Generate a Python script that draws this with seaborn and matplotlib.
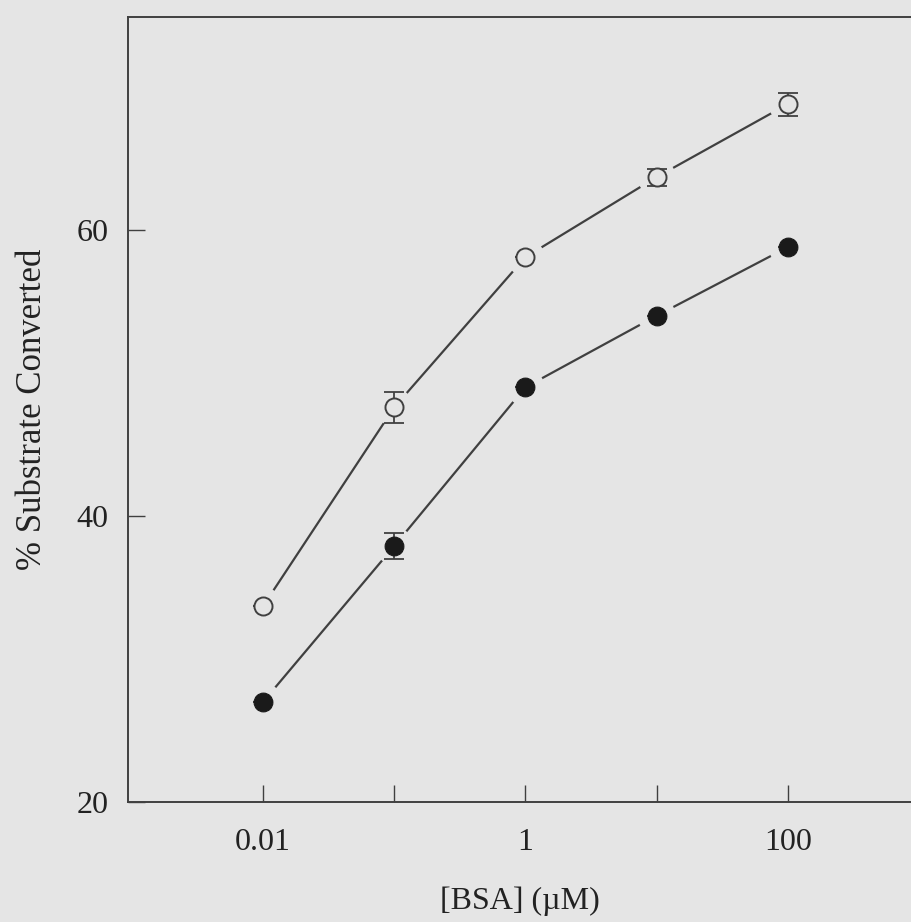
import numpy as np
import pandas as pd
import matplotlib
matplotlib.use("Agg")
import matplotlib.pyplot as plt
import seaborn as sns

# ---- data ----
bsa_conc = [0.01, 0.1, 1, 10, 100]
open_vals = [33.7, 47.6, 58.1, 63.7, 68.8]
open_err = [0.0, 1.1, 0.0, 0.6, 0.8]
filled_vals = [27.0, 37.9, 49.0, 54.0, 58.8]
filled_err = [0.0, 0.9, 0.0, 0.0, 0.0]
x_ticks = [0.01, 1, 100]
x_tick_labels = ["0.01", "1", "100"]
x_minor_ticks = [0.1, 10]
y_ticks = [20, 40, 60]

bg = "#e5e5e5"
ink = "#404040"

sns.set_theme(style="ticks")
plt.rcParams["font.family"] = ["Liberation Serif", "DejaVu Serif"]

fig = plt.figure(figsize=(9.11, 9.22), dpi=100)
fig.patch.set_facecolor(bg)
ax = fig.add_axes([0.1405, 0.1302, 0.8595, 0.8514])
ax.set_facecolor(bg)

df_open = pd.DataFrame({"x": bsa_conc, "y": open_vals})
df_filled = pd.DataFrame({"x": bsa_conc, "y": filled_vals})

for df in (df_open, df_filled):
    sns.lineplot(data=df, x="x", y="y", ax=ax, color=ink, linewidth=1.6, zorder=1)
    # halo so the curve stops short of each marker
    sns.scatterplot(data=df, x="x", y="y", ax=ax, s=38**2 * 0.52, color=bg,
                    edgecolor="none", linewidth=0, zorder=2)

ax.errorbar(bsa_conc, open_vals, yerr=open_err, fmt="none", ecolor=ink,
            elinewidth=1.3, capsize=7, capthick=1.3, zorder=3)
ax.errorbar(bsa_conc, filled_vals, yerr=filled_err, fmt="none", ecolor=ink,
            elinewidth=1.3, capsize=7, capthick=1.3, zorder=3)

sns.scatterplot(data=df_open, x="x", y="y", ax=ax, s=13**2, color=bg,
                edgecolor=ink, linewidth=1.4, zorder=4)
sns.scatterplot(data=df_filled, x="x", y="y", ax=ax, s=13.5**2, color="#1a1a1a",
                edgecolor="#1a1a1a", linewidth=0.8, zorder=4)

ax.set_xscale("log")
ax.set_xlim(10 ** -3.03, 10 ** 2.94)
ax.set_ylim(20, 74.9)
ax.set_xticks(x_ticks + x_minor_ticks)
ax.set_xticklabels(x_tick_labels + ["", ""])
ax.xaxis.set_minor_locator(matplotlib.ticker.NullLocator())
ax.set_yticks(y_ticks)
ax.set_yticklabels([str(v) for v in y_ticks])

ax.tick_params(axis="both", direction="in", length=12, width=1.0, colors=ink,
               labelsize=23, labelcolor="#222222")
ax.tick_params(axis="x", pad=19)
ax.tick_params(axis="y", pad=14)

for side in ("left", "bottom", "top"):
    ax.spines[side].set_color(ink)
    ax.spines[side].set_linewidth(1.4)
ax.spines["right"].set_visible(False)

ax.set_xlabel("[BSA] (\u00b5M)", fontsize=23, color="#222222", labelpad=21)
ax.set_ylabel("% Substrate Converted", fontsize=25, color="#222222", labelpad=20)

fig.savefig("out.png", dpi=100, facecolor=bg)
